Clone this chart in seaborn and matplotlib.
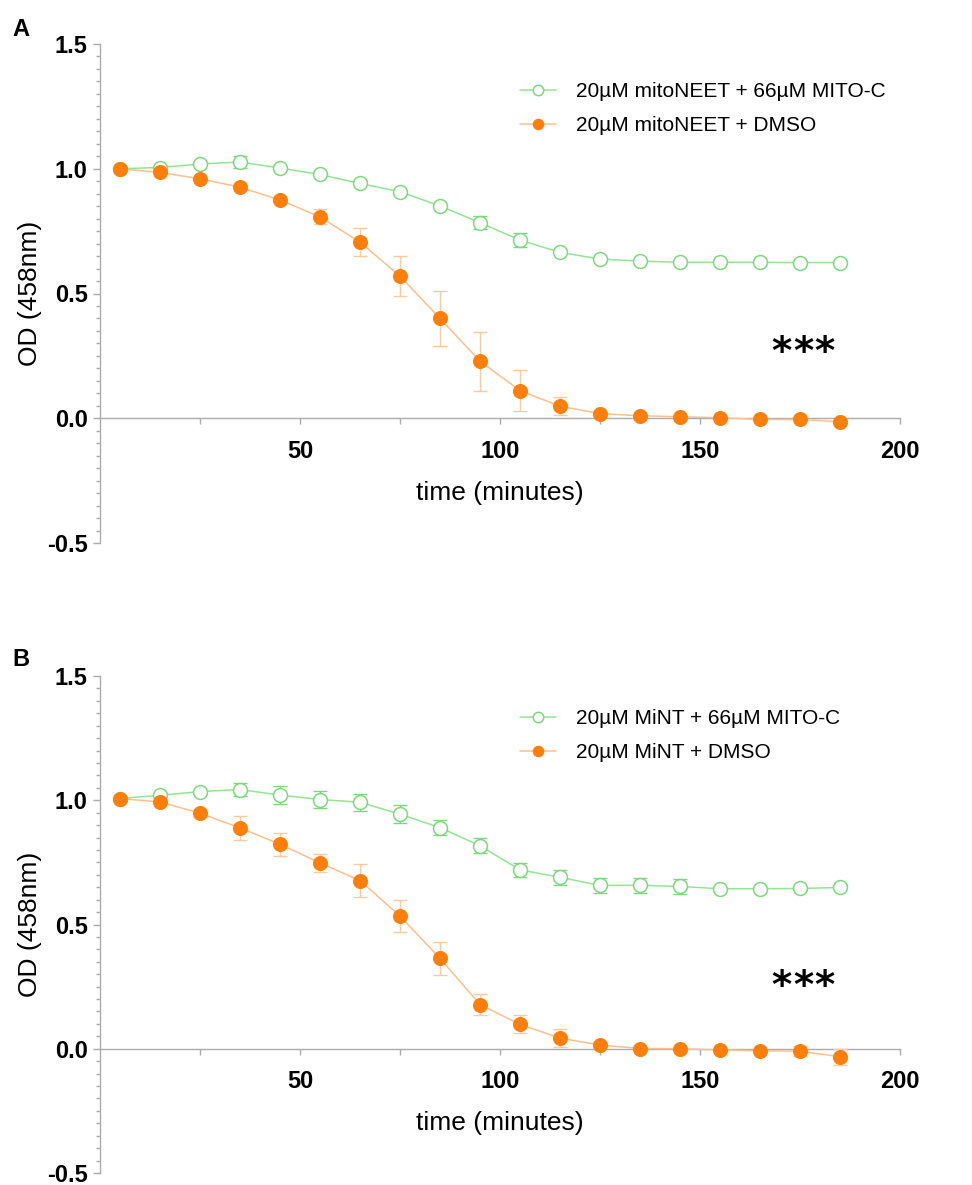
import numpy as np
import pandas as pd
import matplotlib
matplotlib.use("Agg")
import matplotlib.pyplot as plt
from matplotlib.ticker import MultipleLocator, FixedLocator
import seaborn as sns

# ---------------- data ----------------
time_min = [5, 15, 25, 35, 45, 55, 65, 75, 85, 95, 105, 115, 125, 135, 145, 155, 165, 175, 185]
nan = np.nan

# Panel A
a_mitoc = [1.00, 1.005, 1.019, 1.027, 1.003, 0.977, 0.941, 0.908, 0.851, 0.784, 0.714, 0.665, 0.638, 0.630, 0.625, 0.625, 0.625, 0.624, 0.624]
a_mitoc_err = [nan, nan, nan, 0.023, nan, nan, nan, nan, nan, 0.025, 0.028, nan, nan, nan, nan, nan, nan, nan, nan]
a_dmso = [1.00, 0.985, 0.960, 0.926, 0.875, 0.807, 0.706, 0.570, 0.400, 0.229, 0.111, 0.048, 0.019, 0.010, 0.006, 0.002, -0.005, -0.005, -0.014]
a_dmso_err = [nan, nan, nan, nan, nan, 0.030, 0.056, 0.082, 0.110, 0.118, 0.083, 0.036, 0.012, nan, nan, nan, nan, nan, nan]

# Panel B
b_mitoc = [1.007, 1.020, 1.035, 1.043, 1.021, 1.003, 0.992, 0.944, 0.890, 0.817, 0.720, 0.690, 0.657, 0.658, 0.653, 0.644, 0.644, 0.645, 0.649]
b_mitoc_err = [nan, nan, nan, 0.027, 0.036, 0.036, 0.035, 0.035, 0.030, 0.030, 0.027, 0.030, 0.030, 0.030, 0.030, nan, nan, nan, nan]
b_dmso = [1.007, 0.993, 0.948, 0.889, 0.823, 0.748, 0.677, 0.534, 0.364, 0.178, 0.098, 0.043, 0.015, 0.001, 0.000, -0.005, -0.008, -0.010, -0.032]
b_dmso_err = [nan, nan, 0.015, 0.049, 0.047, 0.037, 0.065, 0.064, 0.066, 0.042, 0.036, 0.035, 0.012, nan, nan, nan, nan, 0.020, 0.032]

labels_a = ["20µM mitoNEET + 66µM MITO-C", "20µM mitoNEET + DMSO"]
labels_b = ["20µM MiNT + 66µM MITO-C", "20µM MiNT + DMSO"]
panel_letters = ["A", "B"]
xlabel = "time (minutes)"
ylabel = "OD (458nm)"
star = "*"

# ---------------- style ----------------
sns.set_style("ticks")
plt.rcParams['font.family'] = ['Liberation Sans', 'DejaVu Sans']
plt.rcParams['text.color'] = 'black'
plt.rcParams['axes.labelcolor'] = 'black'
plt.rcParams['xtick.labelcolor'] = 'black'
plt.rcParams['ytick.labelcolor'] = 'black'

GREEN_LINE = "#93E593"
GREEN_MARK = "#7ED87E"
ORANGE_LINE = "#FFBF8C"
ORANGE_MARK = "#FF7F0A"
ORANGE_ERR = "#FFC9A0"
GREEN_ERR = "#7ED87E"
SPINE = "#ABABAB"

fig = plt.figure(figsize=(9.72, 11.85), dpi=100)
W, H = 972, 1185


def make_axes(top_px, bottom_px):
    left = 100 / W
    right = 900 / W
    return fig.add_axes([left, 1 - bottom_px / H, right - left, (bottom_px - top_px) / H])


axA = make_axes(44, 543)
axB = make_axes(676, 1173)

panels = [
    (axA, a_mitoc, a_mitoc_err, a_dmso, a_dmso_err, labels_a, 0.262, 0.924),
    (axB, b_mitoc, b_mitoc_err, b_dmso, b_dmso_err, labels_b, 0.247, 0.933),
]

for i, (ax, mc, mce, dm, dme, labs, star_y, leg_y) in enumerate(panels):
    df = pd.DataFrame({"time": time_min, "mitoc": mc, "dmso": dm})
    ax.errorbar(time_min, mc, yerr=mce, fmt='none', ecolor=GREEN_ERR, elinewidth=1.0,
                capsize=5, capthick=1.0, zorder=2)
    sns.lineplot(data=df, x="time", y="mitoc", ax=ax, color=GREEN_LINE, linewidth=1.1,
                 marker='o', markersize=10, markerfacecolor='white',
                 markeredgecolor=GREEN_MARK, markeredgewidth=1.1, label=labs[0], zorder=3)
    ax.errorbar(time_min, dm, yerr=dme, fmt='none', ecolor=ORANGE_ERR, elinewidth=1.0,
                capsize=5, capthick=1.0, zorder=4)
    sns.lineplot(data=df, x="time", y="dmso", ax=ax, color=ORANGE_LINE, linewidth=1.1,
                 marker='o', markersize=10, markerfacecolor=ORANGE_MARK,
                 markeredgecolor=ORANGE_MARK, markeredgewidth=0.8, label=labs[1], zorder=5)

    ax.set_xlim(0, 200)
    ax.set_ylim(-0.5, 1.5)
    ax.spines['top'].set_visible(False)
    ax.spines['right'].set_visible(False)
    ax.spines['bottom'].set_position(('data', 0))
    for s in ('left', 'bottom'):
        ax.spines[s].set_color(SPINE)
        ax.spines[s].set_linewidth(1.0)

    ax.xaxis.set_major_locator(FixedLocator([50, 100, 150, 200]))
    ax.xaxis.set_minor_locator(FixedLocator([25, 75, 125, 175]))
    ax.yaxis.set_major_locator(MultipleLocator(0.5))
    ax.yaxis.set_minor_locator(MultipleLocator(0.05))
    ax.tick_params(axis='x', which='both', direction='out', length=4.5, width=1.0,
                   color=SPINE, pad=11, labelsize=17)
    ax.tick_params(axis='y', which='major', direction='out', length=5, width=1.0,
                   color=SPINE, pad=4, labelsize=17)
    ax.tick_params(axis='y', which='minor', direction='out', length=3, width=1.0, color=SPINE)
    ax.set_xticklabels(["50", "100", "150", "200"], fontweight='bold')
    ax.set_yticks([-0.5, 0.0, 0.5, 1.0, 1.5])
    ax.set_yticklabels(["-0.5", "0.0", "0.5", "1.0", "1.5"], fontweight='bold')

    ax.set_xlabel(xlabel, fontsize=19)
    ax.xaxis.set_label_coords(0.5, 0.125)
    ax.set_ylabel(ylabel, fontsize=19)
    ax.yaxis.set_label_coords(-0.073, 0.5)

    for dx in (-5.3, 0.0, 5.3):
        ax.text(175.75 + dx, star_y, star, fontsize=28, ha='center', va='center',
                color='black', family='DejaVu Sans', fontweight='bold')

    leg = ax.legend(loc='upper left', bbox_to_anchor=(0.525, leg_y),
                    frameon=False, fontsize=15, handlelength=1.75, handletextpad=0.95,
                    labelspacing=0.72, borderpad=0, borderaxespad=0, markerscale=0.75)

    fig.text(12 / W, 1 - (30 if i == 0 else 660) / H, panel_letters[i],
             fontsize=17, fontweight='bold', ha='left', va='center')

fig.savefig("out.png", dpi=100)
